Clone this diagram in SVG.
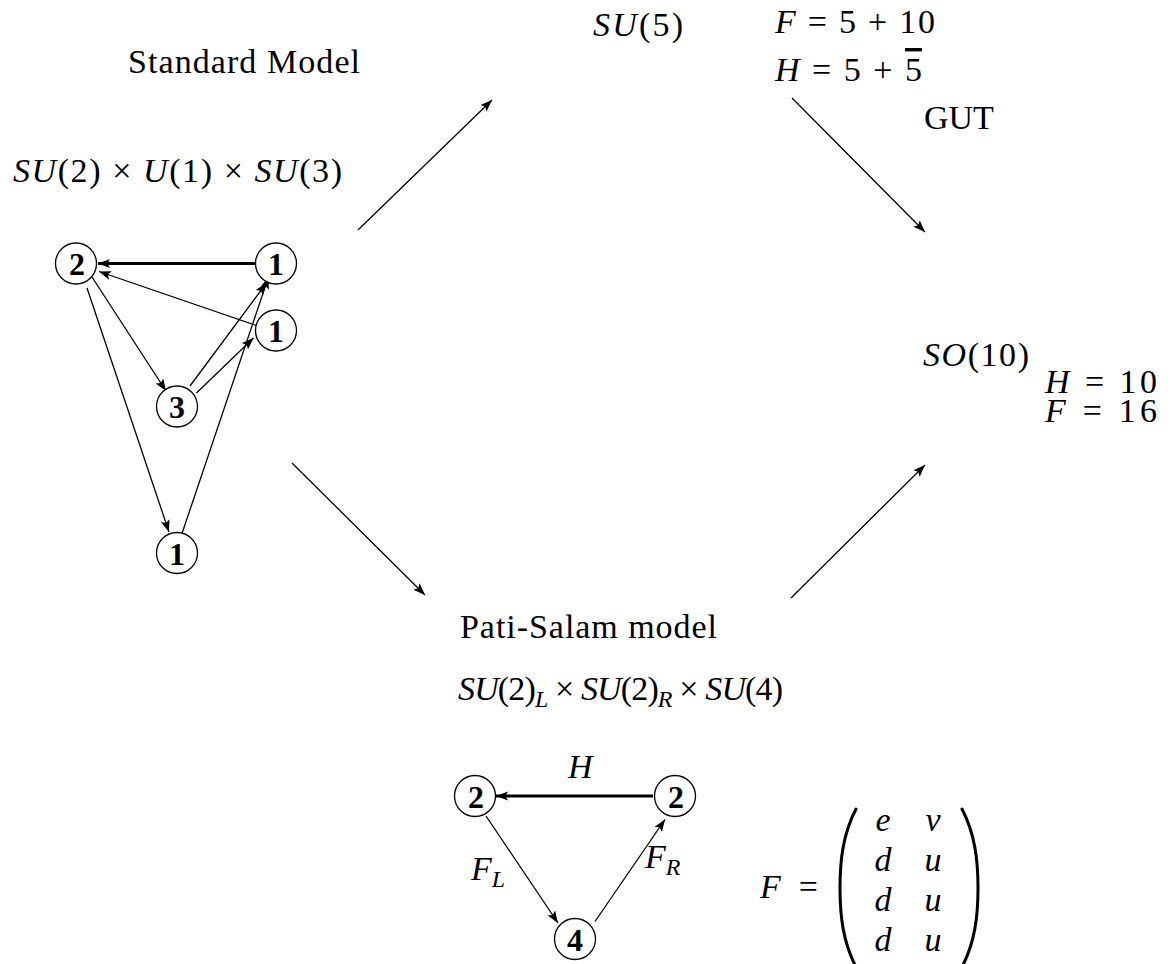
<svg xmlns="http://www.w3.org/2000/svg" width="1170" height="964" viewBox="0 0 1170 964">
<style>
  text { font-family: "Liberation Serif", "Times New Roman", serif; fill: #000; }
  .t { font-size: 34px; }
  .i { font-style: italic; }
  .sub { font-size: 24px; font-style: italic; }
  .n { font-size: 32px; font-weight: bold; text-anchor: middle; }
  .c { fill: #fff; stroke: #000; stroke-width: 1.3; }
  .e { stroke: #000; stroke-width: 1.3; fill: none; marker-end: url(#ah); }
  .E { stroke: #000; stroke-width: 3; fill: none; marker-end: url(#ah); }
  .big { stroke: #000; stroke-width: 1.3; fill: none; marker-end: url(#ah); }
  .par { stroke: #000; stroke-width: 3; fill: none; stroke-linecap: round; }
</style>
<defs>
  <marker id="ah" markerUnits="userSpaceOnUse" markerWidth="13" markerHeight="10" refX="12" refY="4.5" orient="auto">
    <path d="M0,0 L12,4.5 L0,9 L2.5,4.5 z" fill="#000"/>
  </marker>
</defs>
<rect width="1170" height="964" fill="#fff"/>

<g id="connectors">
  <line class="big" x1="358" y1="230" x2="492" y2="100"/>
  <line class="big" x1="792" y1="98" x2="925" y2="232"/>
  <line class="big" x1="292" y1="463" x2="425" y2="595"/>
  <line class="big" x1="791" y1="598" x2="925" y2="465"/>
  <line class="E" x1="255" y1="263.5" x2="98" y2="263.5"/>
  <line class="e" x1="258" y1="326" x2="99" y2="271.5"/>
  <line class="e" x1="92" y1="277" x2="166" y2="391"/>
  <line class="e" x1="87" y1="288" x2="169" y2="532"/>
  <line class="e" x1="190" y1="386" x2="266.5" y2="283"/>
  <line class="e" x1="196.5" y1="393" x2="253.5" y2="338"/>
  <line class="e" x1="181.5" y1="535" x2="268.5" y2="277"/>
  <line class="E" x1="653" y1="796" x2="496" y2="796"/>
  <line class="e" x1="486" y1="816" x2="558" y2="923"/>
  <line class="e" x1="595" y1="921.5" x2="665" y2="819.5"/>
</g>

<g id="sm-node-2"><circle class="c" cx="76" cy="263.5" r="20.5"/><text class="n" x="77" y="275">2</text></g>
<g id="sm-node-1a"><circle class="c" cx="276" cy="263.5" r="20.5"/><text class="n" x="276" y="275">1</text></g>
<g id="sm-node-1b"><circle class="c" cx="276" cy="330.5" r="20.5"/><text class="n" x="276" y="342">1</text></g>
<g id="sm-node-3"><circle class="c" cx="177" cy="406.5" r="20.5"/><text class="n" x="177" y="418">3</text></g>
<g id="sm-node-1c"><circle class="c" cx="177" cy="553" r="20.5"/><text class="n" x="177" y="564.5">1</text></g>

<g id="ps-node-2L"><circle class="c" cx="475" cy="796" r="20.5"/><text class="n" x="476" y="807.5">2</text></g>
<g id="ps-node-2R"><circle class="c" cx="675" cy="796" r="20.5"/><text class="n" x="676" y="807.5">2</text></g>
<g id="ps-node-4"><circle class="c" cx="575" cy="939" r="20.5"/><text class="n" x="575" y="950.5">4</text></g>

<g id="labels">
  <text class="t" x="128" y="73" textLength="232">Standard Model</text>
  <text class="t" x="13" y="182" textLength="329"><tspan class="i">SU</tspan>(2) × <tspan class="i">U</tspan>(1) × <tspan class="i">SU</tspan>(3)</text>
  <text class="t" x="593" y="36" textLength="90"><tspan class="i">SU</tspan>(5)</text>
  <text class="t" x="775" y="33" textLength="160"><tspan class="i">F</tspan> = 5 + 10</text>
  <text class="t" x="775" y="81" textLength="147"><tspan class="i">H</tspan> = 5 + <tspan style="text-decoration: overline">5</tspan></text>
  <text class="t" x="924" y="129">GUT</text>
  <text class="t" x="923" y="366" textLength="106"><tspan class="i">SO</tspan>(10)</text>
  <text class="t"><tspan x="1045" y="393" textLength="112"><tspan class="i">H</tspan> = 10</tspan><tspan x="1045" y="422" textLength="112"><tspan class="i">F</tspan> = 16</tspan></text>
  <text class="t" x="460" y="638" textLength="257">Pati-Salam model</text>
  <text class="t" x="458" y="700" textLength="325"><tspan class="i">SU</tspan>(2)<tspan class="sub" dy="7">L</tspan><tspan dy="-7"> × </tspan><tspan class="i">SU</tspan>(2)<tspan class="sub" dy="7">R</tspan><tspan dy="-7"> × </tspan><tspan class="i">SU</tspan>(4)</text>
  <text class="t i" x="568" y="778">H</text>
  <text class="t" x="471" y="880"><tspan class="i">F</tspan><tspan class="sub" dy="7">L</tspan></text>
  <text class="t" x="645" y="868"><tspan class="i">F</tspan><tspan class="sub" dy="7">R</tspan></text>
</g>

<g id="matrix">
  <text class="t" x="760" y="898" textLength="58"><tspan class="i">F</tspan> =</text>
  <path class="par" d="M856,809 C843,834 840,860 840,888 C840,916 843,942 856,967"/>
  <path class="par" d="M962,809 C975,834 978,860 978,888 C978,916 975,942 962,967"/>
  <text class="t i" x="883" y="831" text-anchor="middle">e</text>
  <text class="t i" x="933" y="831" text-anchor="middle">ν</text>
  <text class="t i" x="883" y="871" text-anchor="middle">d</text>
  <text class="t i" x="933" y="871" text-anchor="middle">u</text>
  <text class="t i" x="883" y="911" text-anchor="middle">d</text>
  <text class="t i" x="933" y="911" text-anchor="middle">u</text>
  <text class="t i" x="883" y="951" text-anchor="middle">d</text>
  <text class="t i" x="933" y="951" text-anchor="middle">u</text>
</g>
</svg>
